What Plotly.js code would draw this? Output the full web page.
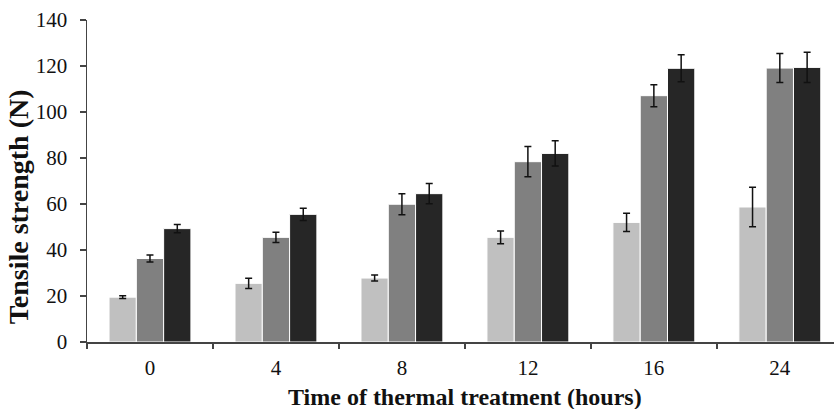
<!DOCTYPE html>
<html>
<head>
<meta charset="utf-8">
<script src="https://cdn.plot.ly/plotly-3.0.1.min.js"></script>
<style>html,body{margin:0;padding:0;background:#fff;}#chart{width:834px;height:409px;}</style>
</head>
<body>
<div id="chart"></div>
<script>
const categories = ["0", "4", "8", "12", "16", "24"];
const seriesLight = [19.5, 25.5, 27.8, 45.5, 52.0, 58.7];
const errLight = [0.6, 2.2, 1.3, 2.8, 4.0, 8.6];
const seriesMid = [36.3, 45.5, 59.9, 78.4, 107.1, 119.1];
const errMid = [1.5, 2.2, 4.6, 6.6, 4.8, 6.3];
const seriesDark = [49.3, 55.5, 64.5, 82.0, 119.0, 119.4];
const errDark = [1.8, 2.7, 4.4, 5.5, 5.9, 6.6];
const yTicks = [0, 20, 40, 60, 80, 100, 120, 140];

const serif = "Liberation Serif, Times New Roman, serif";
function mk(y, e, color) {
  return {
    type: "bar", x: categories, y: y,
    marker: {color: color, line: {color: "#ffffff", width: 1}},
    error_y: {type: "data", array: e, visible: true, color: "#111111", thickness: 1.5, width: 3.5},
    showlegend: false, hoverinfo: "skip"
  };
}
const data = [mk(seriesLight, errLight, "#c0c0c0"), mk(seriesMid, errMid, "#808080"), mk(seriesDark, errDark, "#262626")];
const layout = {
  width: 834, height: 409,
  margin: {l: 87, r: 0, t: 20, b: 67},
  paper_bgcolor: "#ffffff", plot_bgcolor: "#ffffff",
  barmode: "group", bargap: 0.35, bargroupgap: 0,
  font: {family: serif, color: "#111111"},
  xaxis: {
    type: "category", range: [-0.5, 5.43],
    showline: true, linecolor: "#444444", linewidth: 1.5,
    ticks: "outside", tickson: "boundaries", ticklen: 5, tickcolor: "#444444", tickwidth: 1.5,
    ticklabelstandoff: 6,
    tickfont: {family: serif, size: 21, color: "#111111"},
    showgrid: false, zeroline: false
  },
  yaxis: {
    range: [0, 140], tickvals: yTicks, ticktext: yTicks.map(String),
    showline: true, linecolor: "#444444", linewidth: 1.5,
    ticks: "outside", ticklen: 6, tickcolor: "#444444", tickwidth: 1.5,
    ticklabelstandoff: 8,
    tickfont: {family: serif, size: 21, color: "#111111"},
    showgrid: false, zeroline: false
  },
  annotations: [
    {text: "<b>Time of thermal treatment (hours)</b>", xref: "paper", yref: "paper", x: 0.506, y: -0.172,
     xanchor: "center", yanchor: "middle", showarrow: false, font: {family: serif, size: 24, color: "#111111"}},
    {text: "<b>Tensile strength (N)</b>", xref: "paper", yref: "paper", x: -0.092, y: 0.419, textangle: -90,
     xanchor: "center", yanchor: "middle", showarrow: false, font: {family: serif, size: 28, color: "#111111"}}
  ]
};
Plotly.newPlot("chart", data, layout, {displayModeBar: false, staticPlot: true});
</script>
</body>
</html>
